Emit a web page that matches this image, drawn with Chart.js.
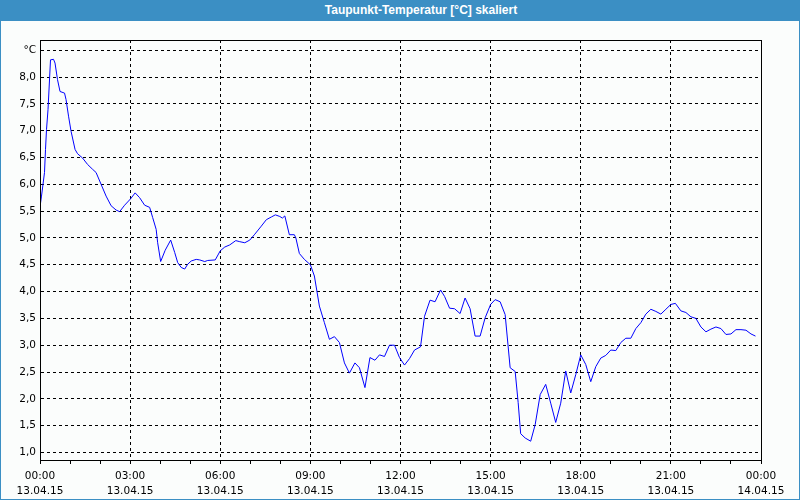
<!DOCTYPE html>
<html>
<head>
<meta charset="utf-8">
<script src="https://cdn.jsdelivr.net/npm/chart.js@4/dist/chart.umd.min.js"></script>
<style>
  html, body { margin: 0; padding: 0; background: #fbfdfc; }
  #wrap { position: relative; width: 800px; height: 500px; box-sizing: border-box;
          border: 1px solid #3b8fc4; border-top: none; background: #fbfdfc; overflow: hidden; }
  #titlebar { position: absolute; left: 0; top: 0; width: 800px; height: 21px; background: #3b8fc4;
              color: #fff; font: bold 12px "Liberation Sans", "DejaVu Sans", sans-serif;
              line-height: 21px; text-align: center; box-sizing: border-box; padding-left: 40px; }
  canvas { position: absolute; left: -1px; top: 0; }
</style>
</head>
<body>
<div id="wrap">
  <canvas id="c" width="800" height="500"></canvas>
  <div id="titlebar">Taupunkt-Temperatur [°C] skaliert</div>
</div>
<script>
// Time of each sample, minutes after 13.04.15 00:00
const times = [0,3,6,9,11,13,16,21,27,30,35,40,49,52,57,62,70,75,85,95,105,112,122,132,142,152,159,169,181,190,199,209,219,225,232,235,241,250,261,269,275,282,289,295,302,312,319,329,335,350,360,369,379,391,399,409,419,429,442,452,462,470,479,484,489,498,508,511,518,528,540,548,558,568,578,588,598,608,618,629,638,649,659,669,678,688,698,708,718,728,738,748,760,768,779,789,800,808,818,828,839,849,859,869,879,889,900,909,919,929,939,949,955,960,969,980,989,999,1010,1020,1030,1040,1050,1060,1070,1080,1090,1100,1110,1120,1130,1140,1150,1160,1170,1180,1190,1200,1210,1220,1230,1240,1250,1260,1269,1280,1290,1300,1310,1320,1330,1340,1350,1360,1370,1380,1390,1400,1410,1420,1429];
// Dew point temperature, °C
const dewPoint = [5.58,5.78,6.00,6.22,6.65,7.02,7.39,8.32,8.33,8.26,7.95,7.73,7.70,7.58,7.27,6.99,6.65,6.57,6.49,6.37,6.28,6.22,6.00,5.78,5.60,5.52,5.49,5.61,5.73,5.84,5.75,5.61,5.57,5.38,5.16,4.91,4.56,4.77,4.96,4.73,4.54,4.45,4.42,4.51,4.57,4.60,4.59,4.56,4.58,4.59,4.76,4.83,4.87,4.95,4.93,4.91,4.96,5.07,5.22,5.34,5.39,5.43,5.40,5.37,5.41,5.06,5.06,5.00,4.71,4.60,4.50,4.29,3.73,3.42,3.11,3.16,3.05,2.67,2.48,2.67,2.58,2.21,2.77,2.72,2.82,2.79,3.00,3.00,2.77,2.63,2.75,2.91,2.97,3.54,3.84,3.81,4.03,3.91,3.69,3.68,3.59,3.88,3.68,3.17,3.17,3.51,3.76,3.85,3.81,3.57,2.58,2.51,1.93,1.35,1.27,1.21,1.52,2.08,2.27,1.92,1.56,1.92,2.52,2.11,2.45,2.82,2.64,2.32,2.60,2.76,2.81,2.91,2.90,3.05,3.13,3.13,3.31,3.42,3.58,3.67,3.63,3.58,3.67,3.76,3.78,3.64,3.61,3.53,3.50,3.34,3.25,3.30,3.34,3.31,3.20,3.21,3.29,3.29,3.28,3.21,3.17];

// Y axis ticks (°C); the top tick shows the unit
const yTicks = [1.0,1.5,2.0,2.5,3.0,3.5,4.0,4.5,5.0,5.5,6.0,6.5,7.0,7.5,8.0,8.5];
const yUnitTick = 8.5;
const yUnitLabel = '°C';
// X axis: hourly tick marks, labelled every 3 hours
const hourTicks = [0,60,120,180,240,300,360,420,480,540,600,660,720,780,840,900,960,1020,1080,1140,1200,1260,1320,1380,1440];
const labelTimes = [0,180,360,540,720,900,1080,1260,1440];
const labelClock = ['00:00','03:00','06:00','09:00','12:00','15:00','18:00','21:00','00:00'];
const labelDate = ['13.04.15','13.04.15','13.04.15','13.04.15','13.04.15','13.04.15','13.04.15','13.04.15','14.04.15'];

const points = times.map((t, i) => ({x: t, y: dewPoint[i]}));

const boxPlugin = {
  id: 'box',
  afterDatasetsDraw(chart) {
    const a = chart.chartArea, ctx = chart.ctx;
    ctx.save();
    ctx.strokeStyle = '#000';
    ctx.lineWidth = 1;
    ctx.setLineDash([]);
    ctx.strokeRect(Math.round(a.left) + 0.5, Math.round(a.top) + 0.5,
                   Math.round(a.right - a.left), Math.round(a.bottom - a.top));
    ctx.restore();
  }
};

const font = { family: '"DejaVu Sans", sans-serif', size: 10.5, lineHeight: 1.42 };

new Chart(document.getElementById('c'), {
  type: 'line',
  data: {
    datasets: [{
      data: points,
      borderColor: '#0000ff',
      borderWidth: 1,
      pointRadius: 0,
      tension: 0,
      fill: false
    }]
  },
  options: {
    responsive: false,
    animation: false,
    devicePixelRatio: 1,
    layout: { padding: { top: 40, right: 39, left: 1, bottom: 0 } },
    plugins: { legend: { display: false }, tooltip: { enabled: false }, title: { display: false } },
    scales: {
      x: {
        type: 'linear',
        min: 0, max: 1440,
        afterBuildTicks(s) { s.ticks = hourTicks.map(v => ({ value: v })); },
        afterFit(s) { s.height = 40; },
        ticks: {
          autoSkip: false, maxRotation: 0, minRotation: 0, padding: 5,
          color: '#000', font: font,
          callback(v) {
            const i = labelTimes.indexOf(v);
            return i >= 0 ? [labelClock[i], labelDate[i]] : '';
          }
        },
        grid: {
          color(ctx) { return ctx.tick && labelTimes.indexOf(ctx.tick.value) >= 0 ? '#000' : 'rgba(0,0,0,0)'; },
          lineWidth: 1,
          tickColor: '#000',
          tickLength: 4,
          tickBorderDash: [],
          drawTicks: true
        },
        border: { display: true, color: '#000', width: 1, dash: [3, 3] }
      },
      y: {
        type: 'linear',
        min: 0.86, max: 8.69,
        afterBuildTicks(s) { s.ticks = yTicks.map(v => ({ value: v })); },
        afterFit(s) { s.width = 39; },
        ticks: {
          padding: 4, color: '#000', font: font,
          callback(v) { return v === yUnitTick ? yUnitLabel : v.toFixed(1).replace('.', ','); }
        },
        grid: { color: '#000', lineWidth: 1, drawTicks: false },
        border: { display: true, color: '#000', width: 1, dash: [3, 3] }
      }
    }
  },
  plugins: [boxPlugin]
});
</script>
</body>
</html>
